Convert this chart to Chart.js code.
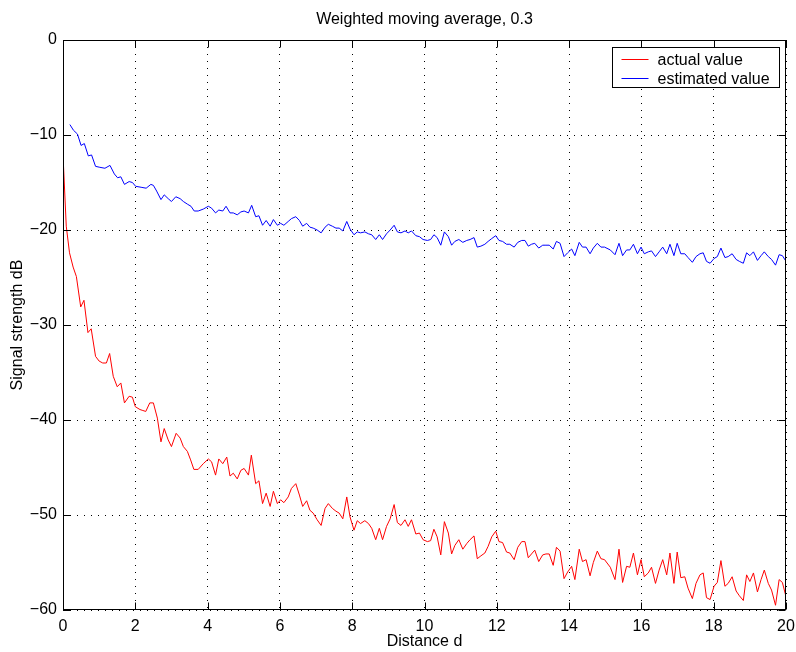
<!DOCTYPE html>
<html><head><meta charset="utf-8">
<script src="https://cdn.jsdelivr.net/npm/chart.js@4/dist/chart.umd.min.js"></script>
<style>html,body{margin:0;padding:0;background:#fff}#wrap{width:796px;height:652px}</style>
</head><body><div id="wrap"><canvas id="c" width="796" height="652"></canvas></div>
<script>
const chartTitle = 'Weighted moving average, 0.3';
const xAxisTitle = 'Distance d';
const yAxisTitle = 'Signal strength dB';
const seriesNames = ['actual value', 'estimated value'];
const seriesColors = ['#ff0000', '#0000ff'];
const xTickValues = [0, 2, 4, 6, 8, 10, 12, 14, 16, 18, 20];
const yTickValues = [-60, -50, -40, -30, -20, -10, 0];

const actualDist = [0,0.09,0.18,0.28,0.37,0.49,0.58,0.69,0.78,0.9,1.0,1.1,1.2,1.29,1.39,1.5,1.6,1.7,1.83,1.92,2.0,2.13,2.21,2.29,2.4,2.5,2.61,2.71,2.8,2.91,3.0,3.13,3.24,3.33,3.44,3.53,3.62,3.74,3.88,4.02,4.11,4.22,4.31,4.42,4.53,4.62,4.71,4.82,4.92,5.01,5.13,5.21,5.33,5.42,5.52,5.62,5.73,5.82,5.93,6.02,6.11,6.23,6.32,6.44,6.54,6.63,6.74,6.83,6.92,7.03,7.14,7.25,7.34,7.45,7.55,7.64,7.74,7.85,7.94,8.05,8.14,8.23,8.35,8.45,8.54,8.65,8.75,8.84,8.95,9.05,9.16,9.25,9.35,9.46,9.55,9.64,9.76,9.86,9.96,10.08,10.17,10.26,10.35,10.45,10.55,10.66,10.75,10.84,10.95,11.06,11.17,11.26,11.37,11.46,11.56,11.67,11.76,11.86,11.97,12.06,12.16,12.27,12.36,12.48,12.58,12.69,12.78,12.87,12.96,13.05,13.16,13.27,13.36,13.45,13.56,13.65,13.75,13.86,13.96,14.07,14.16,14.28,14.37,14.47,14.58,14.67,14.78,14.88,14.98,15.14,15.27,15.38,15.48,15.59,15.68,15.78,15.89,15.99,16.08,16.19,16.28,16.39,16.49,16.59,16.7,16.79,16.9,16.99,17.09,17.2,17.29,17.41,17.51,17.62,17.71,17.8,17.9,18.01,18.1,18.2,18.31,18.4,18.51,18.62,18.71,18.82,18.91,19.0,19.1,19.21,19.31,19.4,19.51,19.6,19.71,19.81,19.9,20.0];
const actualValue = [-12.1,-19.6,-22.4,-23.9,-24.9,-28.1,-27.4,-30.8,-30.4,-33.3,-33.8,-34.0,-34.0,-33.0,-35.4,-36.5,-36.1,-38.2,-37.5,-37.6,-38.6,-38.9,-39.0,-39.1,-38.2,-38.2,-39.8,-42.3,-40.9,-42.1,-42.8,-41.4,-41.9,-42.8,-43.3,-44.2,-45.2,-45.2,-44.6,-44.1,-44.4,-45.8,-44.1,-44.6,-43.9,-45.9,-45.6,-46.2,-45.3,-45.1,-45.8,-43.7,-46.7,-46.4,-48.8,-47.7,-49.1,-47.5,-48.8,-48.4,-48.7,-48.1,-47.2,-46.7,-47.9,-49.1,-48.5,-49.5,-49.8,-50.5,-51.1,-49.3,-48.8,-49.3,-49.6,-49.8,-50.4,-48.1,-50.2,-51.6,-50.6,-50.9,-50.6,-50.9,-51.4,-52.6,-51.4,-52.6,-51.2,-50.4,-48.9,-50.8,-51.1,-50.5,-51.2,-50.5,-52.0,-51.9,-52.6,-52.8,-52.7,-51.5,-52.3,-54.2,-50.7,-51.9,-54.1,-53.2,-52.6,-53.6,-53.0,-52.6,-52.2,-54.6,-54.3,-54.0,-53.3,-52.3,-51.7,-52.8,-52.9,-53.9,-54.0,-54.7,-53.4,-52.8,-52.8,-54.5,-54.1,-53.7,-54.9,-54.2,-54.1,-54.1,-55.3,-53.4,-53.8,-56.7,-56.0,-55.4,-56.8,-53.6,-54.9,-54.7,-56.4,-55.0,-53.8,-54.6,-54.7,-55.5,-56.8,-53.6,-57.1,-55.4,-55.5,-54.0,-56.3,-54.7,-56.5,-56.1,-55.5,-57.2,-55.8,-54.7,-56.3,-54.0,-57.2,-53.9,-56.6,-56.5,-57.7,-58.8,-57.2,-56.3,-56.1,-58.7,-58.9,-57.5,-57.1,-54.8,-57.5,-57.2,-56.5,-58.0,-58.5,-59.0,-56.3,-57.0,-56.1,-58.1,-56.8,-55.8,-57.2,-57.9,-59.5,-56.8,-57.1,-58.6];

const estimatedDist = [0.19,0.29,0.4,0.5,0.59,0.7,0.79,0.9,1.02,1.16,1.3,1.42,1.51,1.6,1.7,1.83,1.92,2.01,2.16,2.3,2.43,2.5,2.59,2.71,2.8,2.91,3.0,3.12,3.24,3.33,3.45,3.54,3.63,3.74,3.88,4.02,4.11,4.22,4.31,4.42,4.51,4.62,4.71,4.82,4.92,5.01,5.13,5.22,5.33,5.42,5.52,5.62,5.73,5.82,5.93,6.02,6.11,6.23,6.32,6.44,6.54,6.63,6.74,6.83,6.92,7.03,7.14,7.25,7.34,7.45,7.55,7.64,7.74,7.85,7.94,8.05,8.14,8.23,8.35,8.45,8.54,8.65,8.75,8.84,8.95,9.05,9.16,9.25,9.35,9.46,9.55,9.64,9.76,9.86,9.96,10.08,10.17,10.26,10.35,10.45,10.55,10.66,10.75,10.84,10.95,11.06,11.17,11.26,11.37,11.46,11.56,11.67,11.76,11.86,11.97,12.06,12.16,12.27,12.36,12.48,12.58,12.69,12.78,12.87,12.96,13.05,13.16,13.27,13.36,13.45,13.56,13.65,13.75,13.86,13.96,14.07,14.16,14.28,14.37,14.47,14.58,14.67,14.78,14.88,14.98,15.14,15.27,15.38,15.48,15.59,15.68,15.78,15.89,15.99,16.08,16.19,16.28,16.39,16.49,16.59,16.7,16.79,16.9,16.99,17.09,17.2,17.29,17.41,17.51,17.62,17.71,17.8,17.9,18.01,18.1,18.2,18.31,18.4,18.51,18.62,18.71,18.82,18.91,19.0,19.1,19.21,19.31,19.4,19.51,19.6,19.71,19.81,19.9,20.0];
const estimatedValue = [-8.9,-9.5,-9.9,-11.1,-10.9,-12.2,-12.1,-13.3,-13.4,-13.5,-13.2,-14.1,-14.5,-14.4,-15.2,-14.9,-15.0,-15.4,-15.5,-15.6,-15.2,-15.3,-15.9,-16.8,-16.3,-16.7,-17.0,-16.5,-16.7,-17.0,-17.3,-17.5,-18.0,-18.0,-17.8,-17.5,-17.7,-18.2,-17.9,-18.0,-17.5,-18.2,-18.2,-18.4,-18.1,-18.0,-18.2,-17.4,-18.6,-18.5,-19.5,-19.0,-19.6,-18.9,-19.5,-19.3,-19.5,-19.1,-18.8,-18.6,-19.0,-19.6,-19.3,-19.7,-19.8,-20.0,-20.3,-19.7,-19.4,-19.6,-19.8,-19.8,-20.1,-19.1,-19.9,-20.5,-20.2,-20.3,-20.2,-20.4,-20.5,-21.0,-20.5,-21.0,-20.4,-20.0,-19.5,-20.2,-20.3,-20.1,-20.3,-20.1,-20.6,-20.7,-21.0,-21.1,-21.0,-20.5,-20.8,-21.6,-20.2,-20.7,-21.6,-21.2,-21.0,-21.3,-21.1,-21.0,-20.8,-21.8,-21.7,-21.5,-21.2,-20.9,-20.6,-21.1,-21.2,-21.5,-21.5,-21.8,-21.3,-21.1,-21.1,-21.7,-21.5,-21.4,-21.9,-21.6,-21.6,-21.6,-22.0,-21.2,-21.4,-22.8,-22.4,-22.0,-22.7,-21.3,-21.8,-21.8,-22.5,-21.9,-21.4,-21.8,-21.8,-22.1,-22.6,-21.4,-22.7,-22.1,-22.1,-21.5,-22.5,-21.8,-22.5,-22.3,-22.2,-22.8,-22.3,-21.8,-22.5,-21.5,-22.7,-21.4,-22.5,-22.5,-22.9,-23.4,-22.8,-22.5,-22.4,-23.3,-23.5,-23.0,-22.8,-21.9,-22.9,-22.8,-22.5,-23.1,-23.3,-23.5,-22.4,-22.7,-22.3,-23.2,-22.7,-22.3,-22.8,-23.1,-23.7,-22.6,-22.7,-23.3];

const FONT = "'Liberation Sans', Arial, Helvetica, sans-serif";
Chart.defaults.font.family = FONT;
Chart.defaults.font.size = 16;
Chart.defaults.color = '#000';

const fmt = v => String(v).replace('-', '\u2212');

const boxPlugin = {
  id: 'matlabBox',
  afterDatasetsDraw(chart) {
    const ctx = chart.ctx, ca = chart.chartArea;
    const xs = chart.scales.x, ys = chart.scales.y;
    const L = Math.round(ca.left) + 0.5, R = Math.round(ca.right) - 0.5;
    const T = Math.round(ca.top) + 0.5, B = Math.round(ca.bottom) - 0.5;
    const tl = 7;
    ctx.save();
    ctx.strokeStyle = '#000';
    ctx.lineWidth = 1;
    ctx.beginPath();
    xTickValues.forEach(v => {
      const px = Math.round(xs.getPixelForValue(v)) + 0.5;
      ctx.moveTo(px, B); ctx.lineTo(px, B - tl);
      ctx.moveTo(px, T); ctx.lineTo(px, T + tl);
    });
    yTickValues.forEach(v => {
      const py = Math.round(ys.getPixelForValue(v)) + 0.5;
      ctx.moveTo(L, py); ctx.lineTo(L + tl, py);
      ctx.moveTo(R, py); ctx.lineTo(R - tl, py);
    });
    ctx.stroke();
    ctx.strokeRect(L, T, R - L, B - T);

    // title centred over the plot area
    ctx.font = '16px ' + FONT;
    ctx.fillStyle = '#000';
    ctx.textAlign = 'center';
    ctx.textBaseline = 'middle';
    ctx.fillText(chartTitle, (ca.left + ca.right) / 2, 20);

    // legend
    const bw = 167, bh = 40;
    const bx = Math.round(ca.right) - 174 + 0.5, by = Math.round(ca.top) + 7 + 0.5;
    ctx.fillStyle = '#fff';
    ctx.fillRect(bx, by, bw, bh);
    ctx.strokeStyle = '#000';
    ctx.strokeRect(bx, by, bw, bh);
    ctx.textAlign = 'left';
    chart.data.datasets.forEach((ds, i) => {
      const yy = Math.round(by + 11.5 + i * 18.5) + 0.5;
      ctx.strokeStyle = ds.borderColor;
      ctx.beginPath();
      ctx.moveTo(bx + 9, yy); ctx.lineTo(bx + 36, yy);
      ctx.stroke();
      ctx.fillStyle = '#000';
      ctx.fillText(ds.label, bx + 45, yy + 1);
    });
    ctx.restore();
  }
};

new Chart(document.getElementById('c'), {
  type: 'line',
  data: {
    datasets: [
      { label: seriesNames[0], data: actualDist.map((x, i) => ({ x, y: actualValue[i] })),
        borderColor: seriesColors[0], borderWidth: 1, pointRadius: 0, tension: 0, fill: false },
      { label: seriesNames[1], data: estimatedDist.map((x, i) => ({ x, y: estimatedValue[i] })),
        borderColor: seriesColors[1], borderWidth: 1, pointRadius: 0, tension: 0, fill: false }
    ]
  },
  options: {
    responsive: false,
    animation: false,
    devicePixelRatio: 1,
    layout: { padding: { left: 0, right: 10, top: 40, bottom: 0 } },
    plugins: {
      legend: { display: false },
      tooltip: { enabled: false },
      title: { display: false }
    },
    scales: {
      x: {
        type: 'linear', min: 0, max: 20,
        afterBuildTicks: s => { s.ticks = xTickValues.map(v => ({ value: v })); },
        afterFit: s => { s.height = 42; s.paddingLeft = 0; s.paddingRight = 0; },
        ticks: { padding: 7, color: '#000', maxRotation: 0, callback: fmt },
        grid: { color: '#000', lineWidth: 1, drawTicks: false },
        border: { display: false, dash: [1, 6] },
        title: { display: true, text: xAxisTitle, color: '#000', padding: { top: 0, bottom: 1 } }
      },
      y: {
        type: 'linear', min: -60, max: 0,
        afterBuildTicks: s => { s.ticks = yTickValues.map(v => ({ value: v })); },
        afterFit: s => { s.width = 63; s.paddingTop = 0; s.paddingBottom = 0; },
        ticks: { padding: 6, color: '#000', callback: fmt },
        grid: { color: '#000', lineWidth: 1, drawTicks: false },
        border: { display: false, dash: [1, 6] },
        title: { display: true, text: yAxisTitle, color: '#000', padding: { top: 8, bottom: 0 } }
      }
    }
  },
  plugins: [boxPlugin]
});
</script>
</body></html>
